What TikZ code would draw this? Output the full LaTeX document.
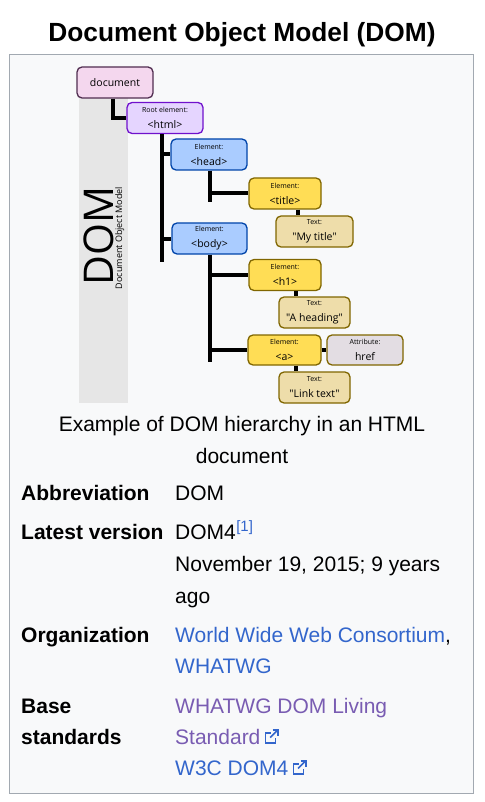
\documentclass[tikz,border=0pt]{standalone}
\usepackage{fontspec}
\setmainfont{Liberation Sans}
\newfontfamily\svgfont{Open Sans}
\usepackage{xcolor}
\definecolor{infoframe}{HTML}{A2A9B1}
\definecolor{infofill}{HTML}{F8F9FA}
\definecolor{linkblue}{HTML}{3366CC}
\definecolor{linkvisited}{HTML}{795CB2}
\definecolor{bandgray}{HTML}{E6E6E6}
\definecolor{docfill}{HTML}{F4D7EE}
\definecolor{docline}{HTML}{502D50}
\definecolor{rootfill}{HTML}{E5D5FF}
\definecolor{rootline}{HTML}{7011CC}
\definecolor{elemfill}{HTML}{AACCFF}
\definecolor{elemline}{HTML}{0044AA}
\definecolor{leaffill}{HTML}{FFDD55}
\definecolor{leafline}{HTML}{806600}
\definecolor{textfill}{HTML}{EEDDAA}
\definecolor{attrfill}{HTML}{E3DDE3}

\begin{document}
\begin{tikzpicture}[x=1pt, y=-1pt, >=stealth,
                    every node/.style={black, inner sep=0pt},
                    infotext/.style={anchor=base west, font=\fontsize{21}{25}\selectfont},
                    infohead/.style={anchor=base west, font=\bfseries\fontsize{21}{25}\selectfont},
                    dombox/.style={draw, rounded corners=5pt, line width=1.3pt,
                                   minimum width=75pt, minimum height=31pt, align=center,
                                   font=\svgfont\fontsize{10.5}{13}\selectfont},
                    leafbox/.style={dombox, minimum width=72pt, draw=leafline},
                    branch/.style={line width=4pt}]

  \useasboundingbox (0,0) rectangle (484,802);
  \fill[white] (0,0) rectangle (484,802);

  %% small label on top of each tree box, and the external link icon
  \newcommand{\domlabel}[1]{{\fontsize{7}{8}\selectfont #1}}
  \newcommand{\extlink}[1]{%
    \begin{scope}[shift={([xshift=4pt]#1)}, draw=linkblue, line width=1.6pt]
      \draw (6,-11) -- (1,-11) -- (1,-1) -- (11,-1) -- (11,-6);
      \draw (5.5,-6.5) -- (13,-14);
      \draw (8,-14) -- (13.5,-14) -- (13.5,-8.5);
    \end{scope}
  }

  %% ---- infobox frame and heading ----
  \node[anchor=base, font=\bfseries\fontsize{26.3}{30}\selectfont] (boxtitle) at (242,42)
    {Document Object Model (DOM)};
  \draw[infoframe, fill=infofill, line width=1pt] (9.5,55) rectangle (473,793);

  %% ---- grey band with the rotated DOM name ----
  \fill[bandgray] (79,98) rectangle (128,403);
  \node[anchor=base, rotate=90, font=\svgfont\fontsize{41}{45}\selectfont] (bigdom) at (113,236) {DOM};
  \node[anchor=base, rotate=90, font=\svgfont\fontsize{9}{10}\selectfont] (smalldom) at (122,238)
    {Document Object Model};

  %% ---- the tree of boxes ----
  \node[dombox, fill=docfill, draw=docline, minimum width=76pt] (document) at (115,82.5) {document};
  \node[dombox, fill=rootfill, draw=rootline, minimum width=76pt] (html) at (165,118)
    {\domlabel{Root element:}\\[3pt]<html>};
  \node[dombox, fill=elemfill, draw=elemline, minimum width=76pt] (head) at (209,154.5)
    {\domlabel{Element:}\\[3pt]<head>};
  \node[leafbox, fill=leaffill] (title) at (285,193.5) {\domlabel{Element:}\\[3pt]<title>};
  \node[leafbox, fill=textfill, minimum width=77pt] (mytitle) at (314.5,231.5)
    {\domlabel{Text:}\\[3pt]"My title"};
  \node[dombox, fill=elemfill, draw=elemline] (body) at (209.5,238.5) {\domlabel{Element:}\\[3pt]<body>};
  \node[leafbox, fill=leaffill] (h1) at (285,275) {\domlabel{Element:}\\[3pt]<h1>};
  \node[leafbox, fill=textfill, minimum width=71pt] (heading) at (314.5,312.5)
    {\domlabel{Text:}\\[3pt]"A heading"};
  \node[leafbox, fill=leaffill, minimum width=73pt, minimum height=30pt] (a) at (284.5,350)
    {\domlabel{Element:}\\[3pt]<a>};
  \node[leafbox, fill=attrfill, minimum width=76pt, minimum height=30pt] (href) at (365,350)
    {\domlabel{Attribute:}\\[3pt]href};
  \node[leafbox, fill=textfill, minimum width=71pt] (linktext) at (314.5,387.5)
    {\domlabel{Text:}\\[3pt]"Link text"};

  %% ---- connectors: spines with short tails, then branches ----
  \coordinate (htmlspine) at (162,262);
  \coordinate (headspine) at (210,202);
  \coordinate (bodyspine) at (210,362);
  \draw[branch] ([xshift=-2.5pt]document.south) |- (html.west);
  \draw[branch] (htmlspine |- html.south) -- (htmlspine);
  \draw[branch] (htmlspine |- head.west) -- (head.west);
  \draw[branch] (htmlspine |- body.west) -- (body.west);
  \draw[branch] (headspine |- head.south) -- (headspine);
  \draw[branch] (headspine |- title.west) -- (title.west);
  \draw[branch] (bodyspine |- body.south) -- (bodyspine);
  \draw[branch] (bodyspine |- h1.west) -- (h1.west);
  \draw[branch] (bodyspine |- a.west) -- (a.west);
  \draw[branch] ([xshift=13pt]title.south) -- ([xshift=13pt]title.south |- mytitle.north);
  \draw[branch] ([xshift=11pt]h1.south) -- ([xshift=11pt]h1.south |- heading.north);
  \draw[branch] (a.east) -- (href.west);
  \draw[branch] ([xshift=11.5pt]a.south) -- ([xshift=11.5pt]a.south |- linktext.north);

  %% ---- caption ----
  \node[anchor=base, font=\fontsize{21}{25}\selectfont] (captiona) at (242,431)
    {Example of DOM hierarchy in an HTML};
  \node[anchor=base, font=\fontsize{21}{25}\selectfont] (captionb) at (242,463) {document};

  %% ---- table rows ----
  \node[infohead] (abbrlabel) at (21,500) {Abbreviation};
  \node[infotext] (abbrvalue) at (175,500) {DOM};

  \node[infohead] (verlabel) at (21,539) {Latest version};
  \node[infotext] (vervalue) at (175,539) {DOM4};
  \node[anchor=base west, font=\fontsize{15}{18}\selectfont, linkblue] (vernote)
    at ([yshift=8pt]vervalue.base east) {[1]};
  \node[infotext] (verdate) at (175,571) {November 19, 2015; 9 years};
  \node[infotext] (verago) at (175,603) {ago};

  \node[infohead] (orglabel) at (21,642) {Organization};
  \node[infotext] (orgvalue) at (175,642) {\textcolor{linkblue}{World Wide Web Consortium},};
  \node[infotext, linkblue] (orgvalueb) at (175,673) {WHATWG};

  \node[infohead] (baselabel) at (21,713) {Base};
  \node[infohead] (baselabelb) at (21,744) {standards};
  \node[infotext, linkvisited] (stda) at (175,713) {WHATWG DOM Living};
  \node[infotext, linkvisited] (stdb) at (175,744) {Standard};
  \node[infotext, linkblue] (stdc) at (175,775) {W3C DOM4};
  \extlink{stdb.base east}
  \extlink{stdc.base east}

\end{tikzpicture}
\end{document}
